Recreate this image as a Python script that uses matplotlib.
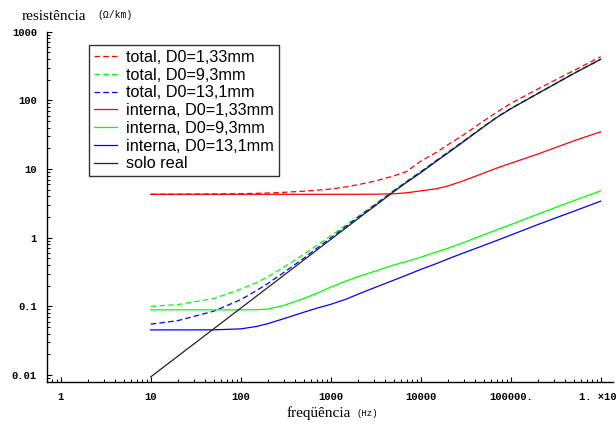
import matplotlib
matplotlib.use("Agg")
import matplotlib.pyplot as plt
from matplotlib.ticker import FixedLocator, LogLocator, NullFormatter

# frequências (Hz) onde as curvas foram avaliadas
freq = [10, 20, 50, 100, 150, 200, 300, 500, 700, 1e3, 1.5e3, 2e3, 3e3, 5e3, 7e3,
        1e4, 1.5e4, 2e4, 3e4, 5e4, 7e4, 1e5, 2e5, 5e5, 1e6]

# resistência total (interna + retorno pelo solo), Ohm/km
total_133 = [4.29, 4.30, 4.33, 4.38, 4.42, 4.47, 4.57, 4.75, 4.9, 5.1, 5.5, 5.9, 6.6, 7.9, 9.2,
             13, 17.5, 22.5, 31.5, 50, 67, 90, 146, 270, 430]
total_93 = [0.100, 0.106, 0.13, 0.178, 0.222, 0.27, 0.37, 0.57, 0.77, 1.06, 1.55, 2.03, 2.98, 4.85, 6.65,
            9.2, 13.4, 17.5, 25.6, 41.5, 56.8, 76, 126, 246, 397]
total_131 = [0.055, 0.062, 0.085, 0.125, 0.17, 0.215, 0.31, 0.5, 0.7, 0.99, 1.48, 1.96, 2.9, 4.78, 6.55,
             9.05, 13.3, 17.4, 25.5, 41.4, 56.6, 75.8, 125.8, 245.5, 396]

# resistência interna do condutor, Ohm/km
interna_133 = [4.28, 4.28, 4.28, 4.28, 4.28, 4.28, 4.28, 4.28, 4.28, 4.28, 4.28, 4.28, 4.29, 4.35, 4.5,
               4.8, 5.15, 5.65, 6.75, 8.7, 10.3, 12.1, 16.5, 25.6, 34.8]
interna_93 = [0.089, 0.089, 0.089, 0.089, 0.0895, 0.091, 0.103, 0.13, 0.155, 0.19, 0.235, 0.27, 0.32, 0.40, 0.45,
              0.52, 0.62, 0.70, 0.85, 1.1, 1.3, 1.55, 2.2, 3.45, 4.8]
interna_131 = [0.0454, 0.0454, 0.0455, 0.047, 0.051, 0.056, 0.066, 0.082, 0.094, 0.107, 0.128, 0.15, 0.185, 0.24, 0.285,
               0.345, 0.42, 0.49, 0.6, 0.77, 0.91, 1.09, 1.55, 2.42, 3.4]

# resistência de retorno pelo solo real
solo_real = [0.0094, 0.0188, 0.047, 0.094, 0.141, 0.188, 0.282, 0.47, 0.66, 0.94, 1.41, 1.88, 2.8, 4.65, 6.4,
             8.8, 13, 17, 25, 41, 56, 75, 125, 244, 395]

x_ticks = [1, 10, 100, 1000, 10000, 100000, 1000000]
x_tick_labels = ["1", "10", "100", "1000", "10000", "100000.", "1. ×10⁶"]
y_ticks = [0.01, 0.1, 1, 10, 100, 1000]
y_tick_labels = ["0.01", "0.1", "1", "10", "100", "1000"]

W, H = 616, 424
mono = ["Liberation Mono", "DejaVu Sans Mono"]
serif = ["Liberation Serif", "DejaVu Serif"]

fig = plt.figure(figsize=(W / 100, H / 100), dpi=100)
ax = fig.add_axes([47 / W, (H - 381.7) / H, 566 / W, 350.1 / H])

dash = (0, (4.5, 2.5))
lw = 0.9
ax.plot(freq, total_133, color="#ff0000", lw=lw, linestyle=dash, label="total, D0=1,33mm")
ax.plot(freq, total_93, color="#00ff00", lw=lw, linestyle=dash, label="total, D0=9,3mm")
ax.plot(freq, total_131, color="#0000ff", lw=lw, linestyle=dash, label="total, D0=13,1mm")
ax.plot(freq, interna_133, color="#ff0000", lw=lw, label="interna, D0=1,33mm")
ax.plot(freq, interna_93, color="#00ff00", lw=lw, label="interna, D0=9,3mm")
ax.plot(freq, interna_131, color="#0000ff", lw=lw, label="interna, D0=13,1mm")
ax.plot(freq, solo_real, color="#222222", lw=lw, label="solo real")

ax.set_xscale("log")
ax.set_yscale("log")
ax.set_xlim(0.704, 1.37e6)
ax.set_ylim(0.008, 1000)

ax.spines["top"].set_visible(False)
ax.spines["right"].set_visible(False)
ax.spines["left"].set_linewidth(1.0)
ax.spines["bottom"].set_linewidth(1.0)

ax.xaxis.set_major_locator(FixedLocator(x_ticks))
ax.set_xticklabels(x_tick_labels)
ax.yaxis.set_major_locator(FixedLocator(y_ticks))
ax.set_yticklabels(y_tick_labels)
ax.xaxis.set_minor_locator(LogLocator(base=10, subs=range(2, 10), numticks=20))
ax.yaxis.set_minor_locator(LogLocator(base=10, subs=range(2, 10), numticks=20))
ax.xaxis.set_minor_formatter(NullFormatter())
ax.yaxis.set_minor_formatter(NullFormatter())
ax.tick_params(which="major", direction="in", length=3.6, width=0.8, pad=7.3)
ax.tick_params(which="minor", direction="in", length=2.2, width=0.7)
for lab in ax.get_xticklabels() + ax.get_yticklabels():
    lab.set_fontfamily(mono)
    lab.set_fontsize(7.6)
    lab.set_fontweight("bold")

# títulos dos eixos, como no estilo do Mathematica
fig.text(22 / W, 1 - 16 / H, "resistência", family=serif, fontsize=11, va="center", ha="left")
fig.text(97 / W, 1 - 15.5 / H, "(Ω/km)", family=mono, fontsize=7, va="center", ha="left")
fig.text(287 / W, 1 - 413 / H, "freqüência", family=serif, fontsize=11, va="center", ha="left")
fig.text(357 / W, 1 - 413 / H, "(Hz)", family=mono, fontsize=6.5, va="center", ha="left")

leg = ax.legend(loc="upper left", bbox_to_anchor=((89 - 47) / 566, 1 - (45 - 31.6) / 350.1),
                borderaxespad=0, fancybox=False, edgecolor="#333333", framealpha=1,
                prop={"family": ["Liberation Sans", "DejaVu Sans"], "size": 11.7},
                handlelength=1.4, handletextpad=0.6, labelspacing=0.17, borderpad=0.3)
leg.get_frame().set_linewidth(1.0)

fig.savefig("out.png", dpi=100)
